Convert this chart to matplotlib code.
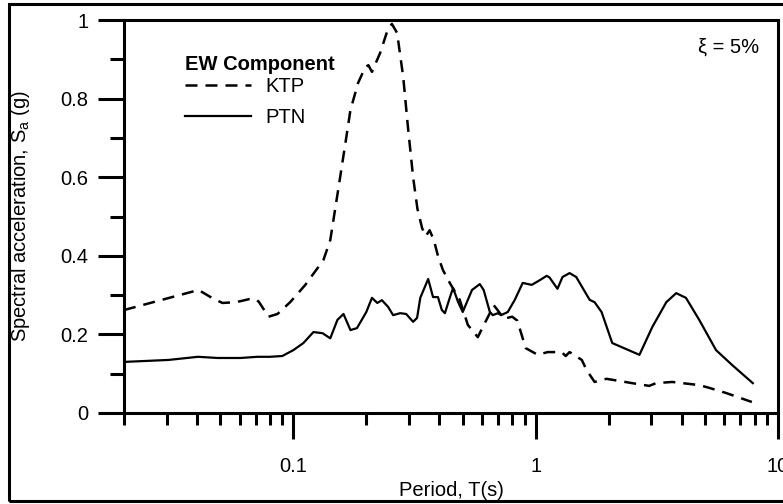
import numpy as np
import matplotlib.pyplot as plt
from matplotlib.patches import Rectangle
from matplotlib.ticker import FixedLocator, NullFormatter

plt.rcParams['font.family'] = ['Liberation Sans', 'DejaVu Sans']
plt.rcParams['mathtext.fontset'] = 'custom'
plt.rcParams['mathtext.rm'] = 'Liberation Sans'

FS = 14.5

# KTP record (dashed)
t_ktp = [0.02, 0.0406, 0.047, 0.051, 0.058, 0.066, 0.0698, 0.072, 0.079, 0.086,
         0.097, 0.112, 0.133, 0.142, 0.153, 0.164, 0.172, 0.185, 0.198, 0.204,
         0.211, 0.228, 0.245, 0.255, 0.268, 0.284, 0.297, 0.312, 0.325, 0.34,
         0.352, 0.365, 0.38, 0.395, 0.414, 0.443, 0.486, 0.525, 0.577, 0.605,
         0.647, 0.67, 0.69, 0.74, 0.80, 0.84, 0.884, 0.91, 1.02, 1.12, 1.28,
         1.33, 1.38, 1.55, 1.62, 1.75, 1.96, 2.5, 2.94, 3.14, 3.66, 4.03, 4.73,
         5.2, 6.1, 7.8]
sa_ktp = [0.262, 0.313, 0.29, 0.28, 0.282, 0.29, 0.29, 0.283, 0.245, 0.252,
          0.282, 0.326, 0.389, 0.44, 0.567, 0.687, 0.771, 0.84, 0.88, 0.885,
          0.868, 0.916, 0.975, 0.99, 0.967, 0.855, 0.728, 0.60, 0.52, 0.47,
          0.45, 0.465, 0.44, 0.40, 0.364, 0.33, 0.288, 0.224, 0.193, 0.219,
          0.254, 0.275, 0.265, 0.24, 0.245, 0.235, 0.19, 0.165, 0.148, 0.155, 0.155,
          0.145, 0.155, 0.135, 0.11, 0.079, 0.087, 0.076, 0.069, 0.076, 0.079, 0.076, 0.071,
          0.064, 0.051, 0.028]

# PTN record (solid)
t_ptn = [0.02, 0.0305, 0.0404, 0.0487, 0.0605, 0.071, 0.080, 0.090, 0.1, 0.11,
         0.121, 0.132, 0.142, 0.152, 0.161, 0.172, 0.183, 0.20, 0.211, 0.222,
         0.232, 0.246, 0.258, 0.276, 0.292, 0.312, 0.324, 0.334, 0.36, 0.377,
         0.395, 0.41, 0.422, 0.443, 0.456, 0.478, 0.50, 0.546, 0.588, 0.61,
         0.647, 0.665, 0.698, 0.72, 0.767, 0.82, 0.884, 0.963, 1.04, 1.11,
         1.14, 1.23, 1.29, 1.38, 1.47, 1.67, 1.75, 1.87, 2.07, 2.68, 3.03,
         3.46, 3.8, 4.17, 4.73, 5.55, 6.47, 7.87]
sa_ptn = [0.130, 0.135, 0.143, 0.14, 0.14, 0.143, 0.143, 0.145, 0.16, 0.178,
          0.206, 0.203, 0.19, 0.237, 0.252, 0.211, 0.216, 0.257, 0.293, 0.28,
          0.287, 0.27, 0.249, 0.254, 0.252, 0.232, 0.242, 0.293, 0.341, 0.295,
          0.295, 0.262, 0.254, 0.295, 0.318, 0.283, 0.257, 0.313, 0.328, 0.313,
          0.257, 0.249, 0.254, 0.249, 0.257, 0.288, 0.331, 0.326, 0.338, 0.349,
          0.345, 0.316, 0.346, 0.356, 0.346, 0.288, 0.282, 0.257, 0.178, 0.148, 0.219,
          0.282, 0.305, 0.293, 0.237, 0.16, 0.122, 0.076]

fig = plt.figure(figsize=(7.83, 5.04), dpi=100)
ax = fig.add_axes([124/783, 1 - 413/504, 654/783, 393/504])

# figure frame (cut at right edge in the original)
fig.patches.append(Rectangle((8.5/783, 3/504), 1.0, 497/504, transform=fig.transFigure,
                             fill=False, lw=2.2, ec='black'))

ktp, = ax.plot(t_ktp, sa_ktp, color='black', lw=1.8, dashes=(4.8, 3.2), label='KTP')
ptn, = ax.plot(t_ptn, sa_ptn, color='black', lw=1.6, label='PTN')

ax.set_xscale('log')
ax.set_xlim(0.02, 10)
ax.set_ylim(0, 1)

ax.set_xticks([0.1, 1, 10])
ax.set_xticklabels(['0.1', '1', '10'])
minor_x = [m * d for d in (0.01, 0.1, 1) for m in range(2, 10) if 0.02 <= m * d < 10]
ax.xaxis.set_minor_locator(FixedLocator(minor_x))
ax.xaxis.set_minor_formatter(NullFormatter())
ax.set_yticks([0, 0.2, 0.4, 0.6, 0.8, 1.0])
ax.set_yticklabels(['0', '0.2', '0.4', '0.6', '0.8', '1'])
ax.yaxis.set_minor_locator(FixedLocator([0.1, 0.3, 0.5, 0.7, 0.9]))

ax.tick_params(which='major', direction='out', length=18.5, width=2.2, labelsize=FS, color='black')
ax.tick_params(axis='y', which='major', pad=7)
ax.tick_params(axis='x', which='major', pad=13)
ax.tick_params(axis='y', which='minor', direction='out', length=10, width=2.2)
ax.tick_params(axis='x', which='minor', direction='out', length=8.5, width=2.2)
for s in ax.spines.values():
    s.set_linewidth(2.2)

ax.set_xlabel('Period, T(s)', fontsize=FS)
ax.xaxis.set_label_coords(0.5, -0.174)
ax.set_ylabel(r'Spectral acceleration, S$_\mathrm{a}$ (g)', fontsize=FS)
ax.yaxis.set_label_coords(-0.141, 0.5)

# legend with its bold heading
ax.text(0.093, 0.886, 'EW Component', transform=ax.transAxes, ha='left', va='center',
        fontsize=FS, fontweight='bold')
ax.legend(handles=[ktp, ptn], loc='upper left', bbox_to_anchor=(0.093, 0.856),
          frameon=False, fontsize=FS, handlelength=3.3, handletextpad=0.7,
          labelspacing=0.6, borderaxespad=0, borderpad=0)

ax.text(0.971, 0.93, '\u03be = 5%', transform=ax.transAxes, ha='right', va='center', fontsize=FS)

fig.savefig('out.png', dpi=100)
